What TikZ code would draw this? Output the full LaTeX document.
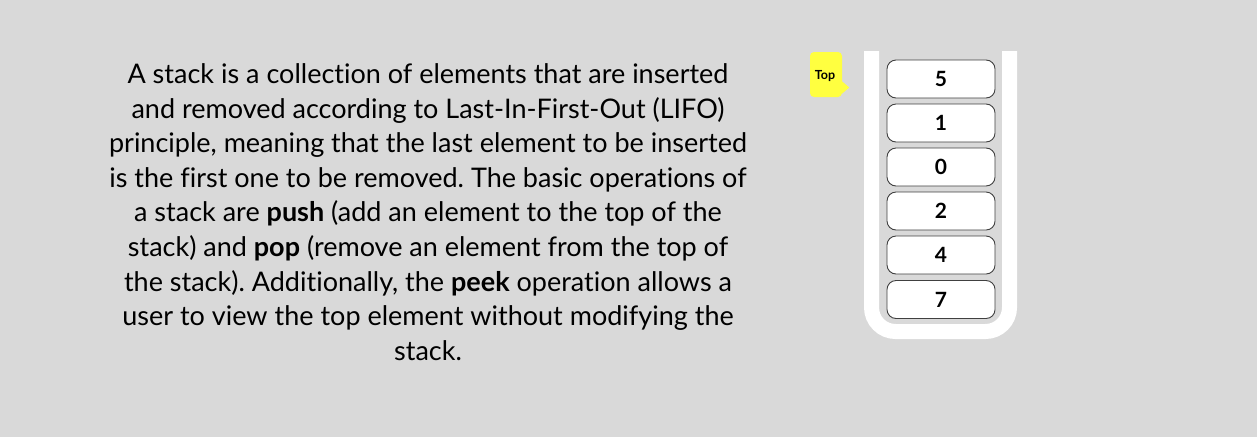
\documentclass[tikz,border=0pt]{standalone}
\usepackage{fontspec}
\setmainfont[Ligatures={NoCommon,NoRare}]{Lato}
\frenchspacing
\definecolor{bg}{HTML}{D9D9D9}
\definecolor{calloutyellow}{HTML}{FFFF40}
\begin{document}
\begin{tikzpicture}[x=1pt,y=-1pt,
  cell/.style={draw=black!75,line width=0.9pt,fill=white,rounded corners=9pt,
    minimum width=108pt,minimum height=38pt,inner sep=0pt,
    font=\fontsize{21}{21}\selectfont\bfseries},
  desc/.style={align=center,inner sep=0pt,font=\fontsize{27}{34.6}\selectfont},
  callout/.style={fill=calloutyellow,rounded corners=4pt,minimum width=32pt,
    minimum height=45pt,inner sep=0pt},
  calloutlabel/.style={inner sep=0pt,anchor=base,font=\fontsize{12.5}{12.5}\selectfont\bfseries}]
\useasboundingbox (0,0) rectangle (1257,437);
\fill[bg] (0,0) rectangle (1257,437);
% description
\node[desc] (text) at (428,212) {A stack is a collection of elements that are inserted\\
and removed according to Last-In-First-Out (LIFO)\\
principle, meaning that the last element to be inserted\\
is the first one to be removed. The basic operations of\\
a stack are \textbf{push} (add an element to the top of the\\
stack) and \textbf{pop} (remove an element from the top of\\
the stack). Additionally, the \textbf{peek} operation allows a\\
user to view the top element without modifying the\\
stack.};
% container
\draw[white,line width=15pt,rounded corners=24pt]
  (871.5,51) -- (871.5,331.5) -- (1009.5,331.5) -- (1009.5,51);
% cells
\node[cell] (b1) at (941,79) {5};
\node[cell] (b2) at (941,123) {1};
\node[cell] (b3) at (941,167) {0};
\node[cell] (b4) at (941,211) {2};
\node[cell] (b5) at (941,255) {4};
\node[cell] (b6) at (941,299.5) {7};
% callout
\node[callout] (top) at (826,74.5) {};
\fill[calloutyellow] ([yshift=-7pt]top.east) -- ++(7,6) -- ++(-7,6) -- cycle;
\node[calloutlabel] (toptext) at (825,79.5) {Top};
\end{tikzpicture}
\end{document}
